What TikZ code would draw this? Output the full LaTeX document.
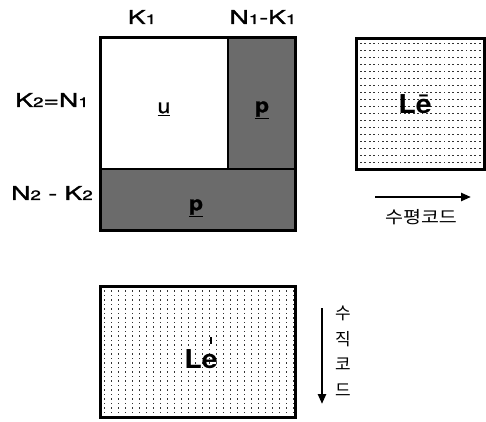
\documentclass[tikz,border=0pt]{standalone}
\usepackage{fontspec}
\setmainfont{TeX Gyre Heros}
\newfontfamily\lblfont{TeX Gyre Heros}[FakeBold=1.3]
\newfontfamily\krfont{Noto Sans CJK KR}
\usetikzlibrary{arrows.meta}
\newcommand{\subdig}[1]{{\fontsize{13.5}{14}\selectfont #1}}
\newcommand{\wide}[1]{\scalebox{1.4}[1]{#1}}
\tikzset{
  frame/.style={draw=black, line width=3pt},
  divider/.style={draw=black, line width=2.2pt},
  darkfill/.style={fill=black!58},
  lbl/.style={inner sep=0pt, font=\lblfont\fontsize{19}{21}\selectfont},
  sym/.style={inner sep=0pt, font=\lblfont\fontsize{20}{22}\selectfont},
  biglbl/.style={inner sep=0pt, font=\bfseries\fontsize{26}{28}\selectfont},
  kr/.style={inner sep=0pt, font=\krfont\fontsize{17}{19}\selectfont},
  bigarrow/.style={line width=2.4pt, -{Triangle[length=10pt,width=8pt]}},
  dot/.style={fill=black!80}
}
\begin{document}
\begin{tikzpicture}[x=1pt,y=-1pt]
\useasboundingbox (0,0) rectangle (486,421);
% main matrix
\fill[white] (100,37.5) rectangle (228,169);
\fill[darkfill] (228,37.5) rectangle (295,169);
\fill[darkfill] (100,169) rectangle (295,230);
\draw[divider] (228,37.5) -- (228,169);
\draw[divider] (100,169) -- (295,169);
\draw[frame] (100,37.5) rectangle (295,230);
\node[sym] (u) at (164,109) {\scalebox{1.15}[1]{\underline{u}}};
\node[sym] (p1) at (262,110) {\scalebox{1.15}[1]{\underline{\textbf{p}}}};
\node[sym] (p2) at (196,208) {\scalebox{1.15}[1]{\underline{\textbf{p}}}};
\node[lbl] (k1) at (142,17) {\wide{K\subdig1}};
\node[lbl] (nk) at (263,17) {\wide{N\subdig1-K\subdig1}};
\node[lbl] (k2) at (52,100) {\wide{K\subdig2=N\subdig1}};
\node[lbl] (nk2) at (52,193) {\wide{N\subdig2 - K\subdig2}};
% right box (horizontal code)
\begin{scope}
\clip (357,39) rectangle (484,168);
\foreach \yy in {43,50,...,168} {
  \foreach \xx in {360,364.4,...,484} {
    \fill[dot] (\xx,\yy) rectangle ++(1.8,1.4);
  }
}
\end{scope}
\draw[frame] (356.5,38) rectangle (484.5,169);
\node[biglbl] (le1) at (415,104) {\scalebox{1.1}[1]{L\={e}}};
\coordinate (h1) at (375,197);
\coordinate (h2) at (471,197);
\draw[bigarrow] (h1) -- (h2);
\node[kr] (hc) at (421,217) {\scalebox{1.15}[1]{수평코드}};
% bottom box (vertical code)
\begin{scope}
\clip (101,287) rectangle (294,416);
\foreach \xx in {104,111,...,294} {
  \foreach \yy in {290,294.5,...,416} {
    \fill[dot] (\xx,\yy) rectangle ++(1.4,1.8);
  }
}
\end{scope}
\draw[frame] (100,286) rectangle (295,417);
\node[biglbl] (le2) at (201,353) {\scalebox{1.1}[1]{L\rlap{\hspace{0.28em}\raisebox{0.95em}{\rule{1.6pt}{7pt}}}e}};
\coordinate (v1) at (322,308);
\coordinate (v2) at (322,404);
\draw[bigarrow] (v1) -- (v2);
\node[kr] (vc1) at (343,313) {수};
\node[kr] (vc2) at (343,339) {직};
\node[kr] (vc3) at (343,364) {코};
\node[kr] (vc4) at (343,390) {드};
\end{tikzpicture}
\end{document}
